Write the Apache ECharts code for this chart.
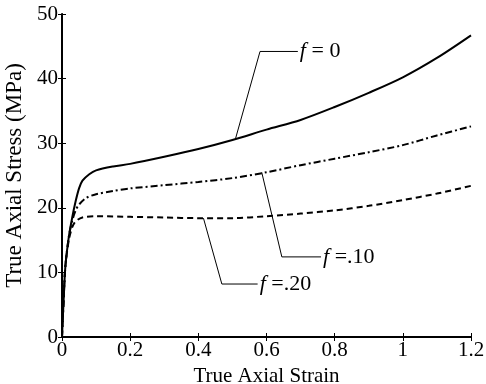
<!DOCTYPE html>
<html>
<head>
<meta charset="utf-8">
<script src="https://cdn.jsdelivr.net/npm/echarts@6/dist/echarts.min.js"></script>
<style>
  html, body { margin: 0; padding: 0; background: #fff; }
  #main { width: 486px; height: 384px; }
</style>
</head>
<body>
<div id="main"></div>
<script>
// strain / stress readings for each porosity f
const strain0 = [0, 0.005, 0.01, 0.02, 0.03, 0.04, 0.05, 0.06, 0.08, 0.1, 0.15, 0.2, 0.3, 0.4, 0.5, 0.6, 0.7, 0.8, 0.9, 1.0, 1.1, 1.2];
const stress0 = [0, 6, 11, 15.5, 18.5, 21, 23, 24.2, 25.2, 25.8, 26.4, 26.8, 27.9, 29.1, 30.5, 32.1, 33.6, 35.6, 37.8, 40.2, 43.2, 46.7];

const strain10 = [0, 0.005, 0.01, 0.02, 0.03, 0.04, 0.05, 0.07, 0.1, 0.15, 0.2, 0.3, 0.4, 0.5, 0.6, 0.7, 0.8, 0.9, 1.0, 1.1, 1.2];
const stress10 = [0, 6, 11, 15.5, 18, 19.6, 20.5, 21.5, 22.1, 22.6, 23, 23.5, 24, 24.6, 25.5, 26.6, 27.6, 28.6, 29.7, 31.2, 32.6];

const strain20 = [0, 0.005, 0.01, 0.02, 0.03, 0.04, 0.06, 0.1, 0.2, 0.3, 0.4, 0.5, 0.6, 0.7, 0.8, 0.9, 1.0, 1.1, 1.2];
const stress20 = [0, 6, 11, 15, 17, 17.9, 18.5, 18.7, 18.6, 18.5, 18.4, 18.4, 18.7, 19.1, 19.6, 20.3, 21.2, 22.2, 23.4];

// leader lines for the labels (strain, stress)
const leader0 = [[0.508, 30.5], [0.581, 44.2], [0.692, 44.2]];
const leader10 = [[0.586, 25.5], [0.645, 12.4], [0.76, 12.4]];
const leader20 = [[0.415, 18.4], [0.469, 8.2], [0.574, 8.2]];
const labels = ['{i|f} = 0', '{i|f} =.10', '{i|f} =.20'];

const xTicks = [0, 0.2, 0.4, 0.6, 0.8, 1, 1.2];

const font = 'Liberation Serif, Times New Roman, serif';
const zip = (xs, ys) => xs.map((x, i) => [x, ys[i]]);

const chart = echarts.init(document.getElementById('main'));

const curve = (data, type) => ({
  type: 'line', data: data, showSymbol: false, smooth: 0.3, animation: false,
  lineStyle: { color: '#000', width: 2, type: type }
});

const leader = (data, text) => ({
  type: 'line', data: data, showSymbol: false, animation: false, silent: true,
  lineStyle: { color: '#000', width: 1 },
  endLabel: {
    show: true, formatter: text, distance: 2, color: '#000',
    fontFamily: font, fontSize: 22,
    rich: { i: { fontStyle: 'italic', fontFamily: font, fontSize: 22, color: '#000' } }
  }
});

const axisCommon = {
  min: 0,
  axisTick: { inside: true, length: 4, lineStyle: { color: '#000' } },
  splitLine: { show: false }
};

chart.setOption({
  backgroundColor: '#fff',
  grid: { left: 62, right: 15, top: 14, bottom: 47, containLabel: false, outerBoundsMode: 'none' },
  xAxis: [
    Object.assign({}, axisCommon, {
      type: 'value', max: 1.2, interval: 0.2,
      name: 'True Axial Strain', nameLocation: 'middle', nameGap: 20,
      nameTextStyle: { fontFamily: font, fontSize: 21, color: '#000' },
      axisLine: { lineStyle: { color: '#000', width: 2 } },
      axisLabel: {
        fontFamily: font, fontSize: 21, color: '#000', margin: 3,
        formatter: v => {
          const t = xTicks.find(x => Math.abs(x - v) < 1e-6);
          return t === undefined ? '' : String(t);
        }
      }
    }),
    Object.assign({}, axisCommon, {
      type: 'value', max: 1.2, interval: 0.2, position: 'top',
      axisLine: { lineStyle: { color: '#000', width: 1 } },
      axisLabel: { show: false }
    })
  ],
  yAxis: [
    Object.assign({}, axisCommon, {
      type: 'value', max: 50, interval: 10,
      name: 'True Axial Stress (MPa)', nameLocation: 'middle', nameGap: 28,
      nameTextStyle: { fontFamily: font, fontSize: 23, color: '#000' },
      axisLine: { show: true, lineStyle: { color: '#000', width: 2 } },
      axisLabel: { fontFamily: font, fontSize: 21, color: '#000', margin: 4 }
    }),
    Object.assign({}, axisCommon, {
      type: 'value', max: 50, interval: 10, position: 'right',
      axisLine: { show: true, lineStyle: { color: '#000', width: 1 } },
      axisLabel: { show: false }
    })
  ],
  series: [
    curve(zip(strain0, stress0), 'solid'),
    curve(zip(strain10, stress10), [7, 3, 2, 3]),
    curve(zip(strain20, stress20), [6, 4]),
    leader(leader0, labels[0]),
    leader(leader10, labels[1]),
    leader(leader20, labels[2])
  ]
});
</script>
</body>
</html>
